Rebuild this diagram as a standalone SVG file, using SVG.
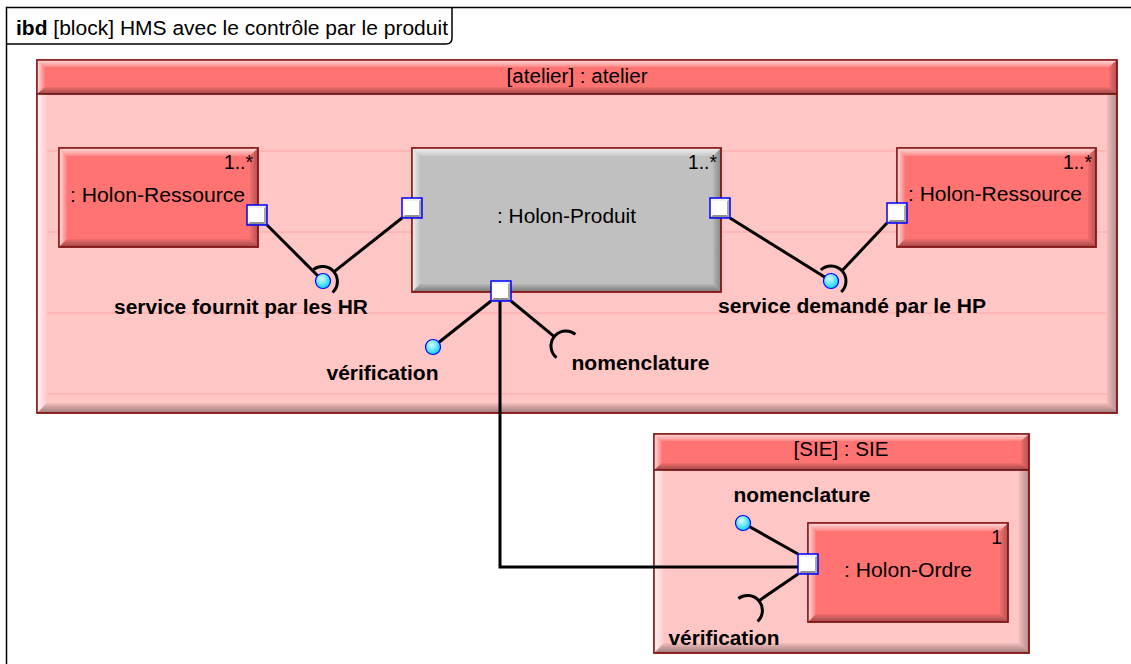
<svg xmlns="http://www.w3.org/2000/svg" xmlns:xlink="http://www.w3.org/1999/xlink" width="1131" height="664" viewBox="0 0 1131 664">
<defs>
<style>
.reg{font-family:"Liberation Sans",Arial,sans-serif;font-size:19.5px;fill:#000}
.bold{font-family:"Liberation Sans",Arial,sans-serif;font-size:20px;font-weight:bold;fill:#000}
.mid{text-anchor:middle}
.end{text-anchor:end}
.red{fill:#ff7373;stroke:#8b1a1a;stroke-width:1.5}
.gray{fill:#c0c0c0;stroke:#8b1a1a;stroke-width:1.5}
.body{fill:#ffc6c6;stroke:#8b1a1a;stroke-width:1.5}
.bt{fill:url(#gTop)}
.bl{fill:url(#gLeft)}
.br{fill:url(#gRight)}
.bb{fill:url(#gBot)}
.grid{stroke:#ffa6a6;stroke-width:1}
.wire{stroke:#000;stroke-width:3;fill:none}
.ball{fill:url(#gBall);stroke:#0000ff;stroke-width:1.2}
.frame{stroke:#000;stroke-width:1.5;fill:none}
</style>
<linearGradient id="gTop" x1="0" y1="0" x2="0" y2="1"><stop offset="0" stop-color="#fff" stop-opacity="0.75"/><stop offset="1" stop-color="#fff" stop-opacity="0.15"/></linearGradient>
<linearGradient id="gLeft" x1="0" y1="0" x2="1" y2="0"><stop offset="0" stop-color="#fff" stop-opacity="0.8"/><stop offset="1" stop-color="#fff" stop-opacity="0.05"/></linearGradient>
<linearGradient id="gRight" x1="0" y1="0" x2="1" y2="0"><stop offset="0" stop-color="#000" stop-opacity="0.05"/><stop offset="1" stop-color="#000" stop-opacity="0.3"/></linearGradient>
<linearGradient id="gBot" x1="0" y1="0" x2="0" y2="1"><stop offset="0" stop-color="#000" stop-opacity="0.05"/><stop offset="1" stop-color="#000" stop-opacity="0.38"/></linearGradient>
<radialGradient id="gBall" cx="0.4" cy="0.35" r="0.7"><stop offset="0" stop-color="#d8ffff"/><stop offset="1" stop-color="#00ccff"/></radialGradient>
<g id="port">
<rect x="0" y="0" width="20" height="20" fill="#ffffff"/>
<polygon points="20,0 20,20 17,17 17,3" fill="#a8a8a8"/>
<polygon points="0,20 3,17 17,17 20,20" fill="#909090"/>
<polygon points="0,0 20,0 17,3 3,3" fill="#f0f0f0"/>
<rect x="0" y="0" width="20" height="20" fill="none" stroke="#0000ff" stroke-width="1.5"/>
</g>
</defs>

<rect x="0" y="0" width="1131" height="664" fill="#ffffff"/>

<g id="frame">
<path class="frame" d="M6.5,664 V7.5 H1131"/>
<path class="frame" d="M6.5,44 H446 Q452,44 452,38 V7.5"/>
<text class="reg" x="16" y="35" textLength="432" lengthAdjust="spacingAndGlyphs"><tspan font-weight="bold">ibd</tspan> [block] HMS avec le contrôle par le produit</text>
</g>

<g id="atelier">
<rect class="body" x="37" y="94" width="1080" height="319"/>
<polygon class="bl" points="37,94 47,94 47,403 37,413"/>
<polygon class="br" points="1117,94 1117,413 1107,403 1107,94"/>
<polygon class="bb" points="37,413 47,403 1107,403 1117,413"/>
<line class="grid" x1="47" y1="151" x2="1107" y2="151"/>
<line class="grid" x1="47" y1="232" x2="1107" y2="232"/>
<line class="grid" x1="47" y1="313" x2="1107" y2="313"/>
<line class="grid" x1="47" y1="394" x2="1107" y2="394"/>
<rect class="red" x="37" y="60" width="1080" height="34"/>
<polygon class="bt" points="37,60 1117,60 1109,67 45,67"/>
<polygon class="bl" points="37,60 45,67 45,87 37,94"/>
<polygon class="br" points="1117,60 1117,94 1109,87 1109,67"/>
<polygon class="bb" points="37,94 45,87 1109,87 1117,94"/>
<rect x="37" y="60" width="1080" height="353" fill="none" stroke="#8b1a1a" stroke-width="1.5"/>
<text class="reg mid" x="577" y="83" textLength="141" lengthAdjust="spacingAndGlyphs">[atelier] : atelier</text>
</g>

<g id="sie">
<rect class="body" x="654" y="470" width="375" height="183"/>
<polygon class="bl" points="654,470 664,470 664,643 654,653"/>
<polygon class="br" points="1029,470 1029,653 1019,643 1019,470"/>
<polygon class="bb" points="654,653 664,643 1019,643 1029,653"/>
<rect class="red" x="654" y="434" width="375" height="36"/>
<polygon class="bt" points="654,434 1029,434 1021,441 662,441"/>
<polygon class="bl" points="654,434 662,441 662,463 654,470"/>
<polygon class="br" points="1029,434 1029,470 1021,463 1021,441"/>
<polygon class="bb" points="654,470 662,463 1021,463 1029,470"/>
<rect x="654" y="434" width="375" height="219" fill="none" stroke="#8b1a1a" stroke-width="1.5"/>
<text class="reg mid" x="841" y="456" textLength="95" lengthAdjust="spacingAndGlyphs">[SIE] : SIE</text>
</g>

<g id="hr-left">
<rect class="red" x="59" y="148" width="199" height="99"/>
<polygon class="bt" points="59,148 258,148 250,156 67,156"/>
<polygon class="bl" points="59,148 67,156 67,239 59,247"/>
<polygon class="br" points="258,148 258,247 250,239 250,156"/>
<polygon class="bb" points="59,247 67,239 250,239 258,247"/>
<rect x="59" y="148" width="199" height="99" fill="none" stroke="#8b1a1a" stroke-width="1.5"/>
<text class="reg end" x="253" y="169" textLength="29" lengthAdjust="spacingAndGlyphs">1..*</text>
<text class="reg mid" x="157.5" y="202" textLength="175" lengthAdjust="spacingAndGlyphs">: Holon-Ressource</text>
</g>

<g id="hp">
<rect class="gray" x="412" y="148" width="309" height="144"/>
<polygon class="bt" points="412,148 721,148 713,156 420,156"/>
<polygon class="bl" points="412,148 420,156 420,284 412,292"/>
<polygon class="br" points="721,148 721,292 713,284 713,156"/>
<polygon class="bb" points="412,292 420,284 713,284 721,292"/>
<rect x="412" y="148" width="309" height="144" fill="none" stroke="#8b1a1a" stroke-width="1.5"/>
<text class="reg end" x="717" y="169" textLength="29" lengthAdjust="spacingAndGlyphs">1..*</text>
<text class="reg mid" x="566.5" y="223" textLength="139" lengthAdjust="spacingAndGlyphs">: Holon-Produit</text>
</g>

<g id="hr-right">
<rect class="red" x="897" y="148" width="199" height="99"/>
<polygon class="bt" points="897,148 1096,148 1088,156 905,156"/>
<polygon class="bl" points="897,148 905,156 905,239 897,247"/>
<polygon class="br" points="1096,148 1096,247 1088,239 1088,156"/>
<polygon class="bb" points="897,247 905,239 1088,239 1096,247"/>
<rect x="897" y="148" width="199" height="99" fill="none" stroke="#8b1a1a" stroke-width="1.5"/>
<text class="reg end" x="1092" y="169" textLength="29" lengthAdjust="spacingAndGlyphs">1..*</text>
<text class="reg mid" x="995" y="201" textLength="174" lengthAdjust="spacingAndGlyphs">: Holon-Ressource</text>
</g>

<g id="ho">
<rect class="red" x="808" y="523" width="200" height="99"/>
<polygon class="bt" points="808,523 1008,523 1000,531 816,531"/>
<polygon class="bl" points="808,523 816,531 816,614 808,622"/>
<polygon class="br" points="1008,523 1008,622 1000,614 1000,531"/>
<polygon class="bb" points="808,622 816,614 1000,614 1008,622"/>
<rect x="808" y="523" width="200" height="99" fill="none" stroke="#8b1a1a" stroke-width="1.5"/>
<text class="reg end" x="1002" y="544">1</text>
<text class="reg mid" x="908" y="577" textLength="128" lengthAdjust="spacingAndGlyphs">: Holon-Ordre</text>
</g>

<g id="connectors">
<line class="wire" x1="267" y1="225" x2="323" y2="281"/>
<line class="wire" x1="402" y1="218" x2="334.5" y2="271.4"/>
<path class="wire" d="M313.4,269.5 A15,15 0 0 1 332.6,292.5"/>
<line class="wire" x1="730" y1="218" x2="831" y2="281"/>
<line class="wire" x1="887" y1="223" x2="842" y2="270.8"/>
<path class="wire" d="M820.8,270 A15,15 0 0 1 841.2,292"/>
<line class="wire" x1="491" y1="301" x2="433" y2="347"/>
<line class="wire" x1="511" y1="301" x2="554.3" y2="336.6"/>
<path class="wire" d="M556.6,357.7 A15,15 0 0 1 575.4,334.3"/>
<polyline class="wire" points="500,301 500,567 798,567"/>
<line class="wire" x1="798" y1="554" x2="743" y2="523"/>
<line class="wire" x1="798" y1="574" x2="759.5" y2="600.4"/>
<path class="wire" d="M738.4,598.5 A15,15 0 0 1 757.6,621.5"/>
</g>

<g id="balls">
<circle class="ball" cx="323" cy="281" r="7.5"/>
<circle class="ball" cx="831" cy="281" r="7.5"/>
<circle class="ball" cx="433" cy="347" r="7.5"/>
<circle class="ball" cx="743" cy="523" r="7.5"/>
</g>

<g id="ports">
<use xlink:href="#port" x="247" y="205"/>
<use xlink:href="#port" x="402" y="198"/>
<use xlink:href="#port" x="710" y="198"/>
<use xlink:href="#port" x="491" y="281"/>
<use xlink:href="#port" x="887" y="203"/>
<use xlink:href="#port" x="798" y="554"/>
</g>

<g id="labels">
<text class="bold mid" x="241" y="314" textLength="254" lengthAdjust="spacingAndGlyphs">service fournit par les HR</text>
<text class="bold mid" x="852" y="313" textLength="268" lengthAdjust="spacingAndGlyphs">service demandé par le HP</text>
<text class="bold mid" x="382.5" y="380" textLength="112" lengthAdjust="spacingAndGlyphs">vérification</text>
<text class="bold mid" x="640.5" y="370" textLength="138" lengthAdjust="spacingAndGlyphs">nomenclature</text>
<text class="bold mid" x="802" y="502" textLength="137" lengthAdjust="spacingAndGlyphs">nomenclature</text>
<text class="bold mid" x="724" y="645" textLength="111" lengthAdjust="spacingAndGlyphs">vérification</text>
</g>
</svg>
